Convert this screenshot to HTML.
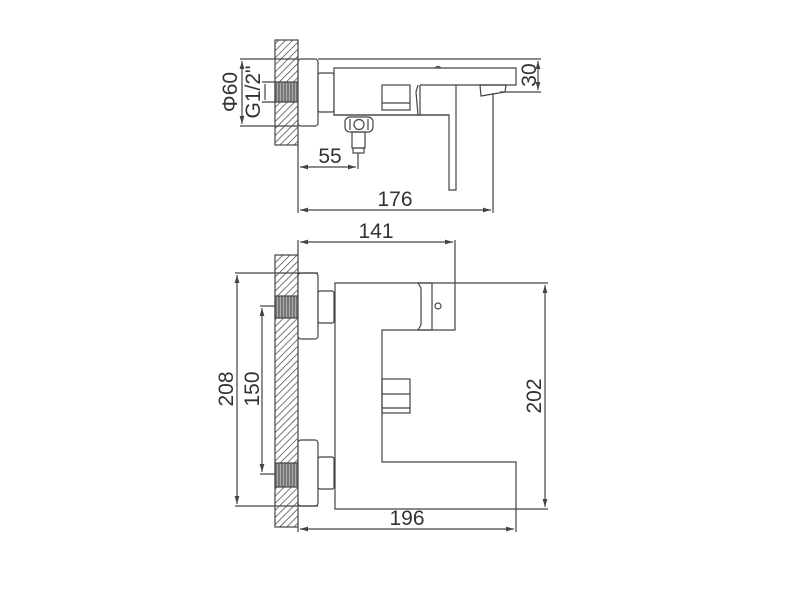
<!DOCTYPE html>
<html><head><meta charset="utf-8"><style>
html,body{margin:0;padding:0;background:#fff;}
svg{display:block}
text{font-family:"Liberation Sans",sans-serif;font-size:21px;fill:#333;}
</style></head><body>
<svg width="800" height="600" viewBox="0 0 800 600" xmlns="http://www.w3.org/2000/svg">
<defs>
<pattern id="h" width="5" height="5" patternUnits="userSpaceOnUse" patternTransform="rotate(45)">
<rect width="5" height="5" fill="#fff"/><line x1="0" y1="0" x2="0" y2="5" stroke="#555" stroke-width="1.6"/>
</pattern>
<pattern id="t" width="3" height="3" patternUnits="userSpaceOnUse">
<rect width="3" height="3" fill="#777"/><line x1="1.5" y1="0" x2="1.5" y2="3" stroke="#aaa" stroke-width="1"/>
</pattern>
<marker id="a" viewBox="0 0 10 6" refX="10" refY="3" markerWidth="8" markerHeight="5" orient="auto-start-reverse" markerUnits="userSpaceOnUse"><path d="M0,0 L10,3 L0,6 z" fill="#444"/></marker>
</defs>
<g stroke="#444" stroke-width="1.2" fill="none">
<rect x="275" y="40" width="23" height="105" fill="url(#h)"/>
<rect x="275" y="82" width="23" height="20" fill="url(#t)"/>
<rect x="298" y="59" width="20" height="67" rx="3" fill="#fff"/>
<rect x="318" y="73" width="16" height="39" rx="2" fill="#fff"/>
<path d="M334,68 H516 V85 H456 V190 H449 V115 H382 V115 H334 Z" fill="#fff"/>
<path d="M334,115 H420 V85"/>
<rect x="382" y="85" width="28" height="25"/>
<line x1="382" y1="103" x2="410" y2="103"/>
<path d="M420,85 H456 M449,115 H420"/>
<path d="M418,85 L416,92 L418,115"/>
<path d="M480,85 H506 L505,92 L481,96 Z"/>
<path d="M435,68 Q438,65 441,68"/>
<rect x="345" y="117" width="28" height="15" rx="5" fill="#fff"/>
<circle cx="359" cy="124.5" r="5"/>
<path d="M350,119 V130 M368,119 V130"/>
<rect x="352" y="132" width="13" height="16"/>
<rect x="353" y="148" width="11" height="5"/>
<path d="M240,59 H298 M240,126 H298"/>
<line x1="242" y1="61" x2="242" y2="124" marker-start="url(#a)" marker-end="url(#a)"/>
<path d="M262,82 H275 M262,102 H275"/>
<line x1="265" y1="84" x2="265" y2="100"/>
<path d="M318,59 H541 M500,92 H541"/>
<line x1="538" y1="61" x2="538" y2="90" marker-start="url(#a)" marker-end="url(#a)"/>
<path d="M298,145 V213 M358,153 V169 M493,93 V213"/>
<line x1="300" y1="167" x2="356" y2="167" marker-start="url(#a)" marker-end="url(#a)"/>
<line x1="300" y1="210" x2="491" y2="210" marker-start="url(#a)" marker-end="url(#a)"/>

<rect x="275" y="255" width="23" height="272" fill="url(#h)"/>
<rect x="275" y="296" width="23" height="22" fill="url(#t)"/>
<rect x="275" y="463" width="23" height="24" fill="url(#t)"/>
<rect x="298" y="273" width="20" height="66" rx="3" fill="#fff"/>
<rect x="298" y="440" width="20" height="66" rx="3" fill="#fff"/>
<rect x="318" y="291" width="16" height="32" rx="2" fill="#fff"/>
<rect x="318" y="457" width="16" height="32" rx="2" fill="#fff"/>
<path d="M335,283 H455 V330 H382 V462 H516 V509 H335 Z" fill="#fff"/>
<path d="M418,283 L432,283 L432,330 L418,330 L421,325 V288 Z"/>
<circle cx="438" cy="306" r="3"/>
<rect x="382" y="379" width="28" height="34"/>
<path d="M382,394 H410 M382,408 H410"/>
<path d="M298,255 V240 M455,283 V240"/>
<line x1="300" y1="242" x2="453" y2="242" marker-start="url(#a)" marker-end="url(#a)"/>
<path d="M235,273 H318 M235,506 H318"/>
<line x1="237" y1="275" x2="237" y2="504" marker-start="url(#a)" marker-end="url(#a)"/>
<path d="M260,306 H275 M260,474 H275"/>
<line x1="262" y1="308" x2="262" y2="472" marker-start="url(#a)" marker-end="url(#a)"/>
<path d="M455,283 H548 M516,509 H548"/>
<line x1="545" y1="285" x2="545" y2="507" marker-start="url(#a)" marker-end="url(#a)"/>
<path d="M298,527 V532 M516,509 V532"/>
<line x1="300" y1="529" x2="514" y2="529" marker-start="url(#a)" marker-end="url(#a)"/>
</g>
<g>
<text x="237" y="92" text-anchor="middle" transform="rotate(-90 237 92)">Φ60</text>
<text x="260" y="92" text-anchor="middle" transform="rotate(-90 260 92)">G1/2"</text>
<text x="536" y="75" text-anchor="middle" transform="rotate(-90 536 75)">30</text>
<text x="330" y="163" text-anchor="middle">55</text>
<text x="395" y="206" text-anchor="middle">176</text>
<text x="376" y="238" text-anchor="middle">141</text>
<text x="233" y="389" text-anchor="middle" transform="rotate(-90 233 389)">208</text>
<text x="259" y="389" text-anchor="middle" transform="rotate(-90 259 389)">150</text>
<text x="541" y="396" text-anchor="middle" transform="rotate(-90 541 396)">202</text>
<text x="407" y="525" text-anchor="middle">196</text>
</g>
</svg>
</body></html>
